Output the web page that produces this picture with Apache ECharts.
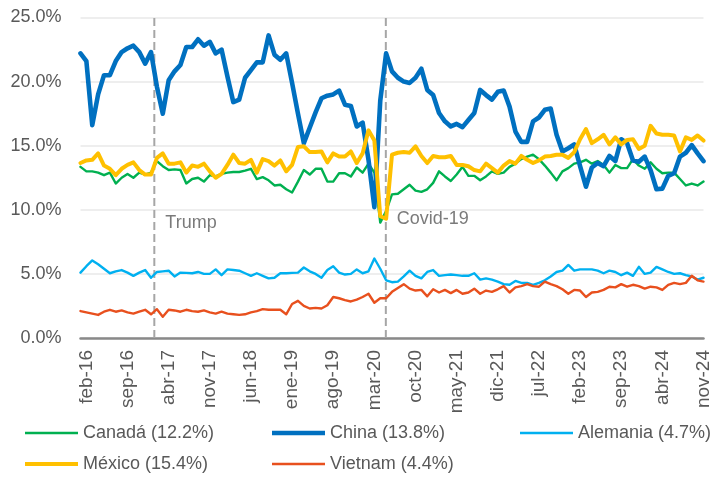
<!DOCTYPE html>
<html>
<head>
<meta charset="utf-8">
<script src="https://cdn.jsdelivr.net/npm/echarts@6/dist/echarts.min.js"></script>
<style>
html,body{margin:0;padding:0;background:#fff;}
#chart{width:713px;height:479px;}
</style>
</head>
<body>
<div id="chart"></div>
<script>
// Month labels (Spanish), ene-16 .. nov-24
const monthNames = ['ene','feb','mar','abr','may','jun','jul','ago','sep','oct','nov','dic'];
const categories = [];
for (let y = 16; y <= 24; y++) {
  for (let m = 0; m < 12; m++) {
    if (y === 24 && m > 10) break;
    categories.push(monthNames[m] + '-' + y);
  }
}

const canada = [13.35,13.0,13.0,12.9,12.7,12.9,12.05,12.5,12.8,12.5,12.9,12.75,12.9,13.8,13.4,13.1,13.15,13.1,12.05,12.4,
  12.5,12.2,12.7,12.6,12.8,12.9,12.95,12.95,13.05,13.2,12.4,12.55,12.3,11.9,11.95,11.6,11.35,12.2,13.1,12.75,
  13.2,13.2,12.2,12.2,12.85,12.85,12.6,13.3,12.9,13.6,12.9,9.0,9.9,11.2,11.25,11.6,11.95,11.5,11.4,11.6,
  12.1,13.0,12.6,12.25,12.75,13.35,12.65,12.65,12.3,12.6,13.0,12.8,12.9,13.35,13.6,13.95,14.15,14.3,13.95,13.45,
  12.9,12.3,13.0,13.25,13.6,13.7,13.9,13.6,13.8,13.5,12.9,13.5,13.25,13.25,13.95,13.45,13.2,13.7,13.2,12.85,
  12.9,12.9,12.4,11.9,12.05,11.9,12.2];
const china = [22.2,21.6,16.6,19.0,20.5,20.5,21.6,22.3,22.6,22.8,22.3,21.4,22.3,19.6,17.5,20.1,20.8,21.3,22.7,22.7,
  23.3,22.8,23.1,22.2,22.5,20.4,18.4,18.6,20.3,20.9,21.5,21.5,23.6,22.1,21.7,22.2,19.9,17.5,15.2,16.4,
  17.6,18.7,18.9,19.0,19.3,18.2,18.1,16.5,16.8,13.9,10.2,18.5,22.2,20.8,20.3,20.0,19.9,20.3,21.0,19.35,
  18.95,17.55,16.9,16.5,16.7,16.45,17.0,17.55,19.35,18.95,18.6,19.2,19.3,18.05,16.1,15.3,15.3,16.9,17.2,17.8,
  17.9,15.85,14.55,14.8,15.1,13.4,11.8,13.3,13.65,13.4,14.2,13.8,15.5,15.2,13.85,13.75,14.15,13.1,11.6,11.65,
  12.65,12.85,14.15,14.45,15.05,14.4,13.8];
const alemania = [5.1,5.6,6.05,5.75,5.4,5.05,5.2,5.3,5.1,4.85,5.1,5.3,4.7,5.15,5.2,5.25,4.8,5.1,5.08,5.05,
  5.15,5.0,5.0,5.35,4.9,5.35,5.3,5.25,5.05,4.85,5.05,4.85,4.65,4.7,5.05,5.05,5.08,5.1,5.5,5.2,
  5.0,4.7,5.3,5.6,5.1,4.95,5.0,5.35,5.05,5.2,6.2,5.4,4.5,4.35,4.4,4.8,5.25,4.85,4.65,5.15,
  5.3,4.85,4.9,4.95,4.9,4.85,4.85,5.05,4.55,4.65,4.55,4.4,4.2,4.15,4.45,4.3,4.3,4.15,4.3,4.5,
  4.8,5.15,5.25,5.7,5.25,5.35,5.35,5.35,5.25,5.05,5.25,5.15,4.9,5.1,4.85,5.55,5.0,5.1,5.55,5.35,
  5.15,5.0,5.05,4.9,4.8,4.55,4.7];
const mexico = [13.65,13.85,13.9,14.4,13.45,13.2,12.7,13.2,13.5,13.7,13.1,12.75,12.75,14.05,14.4,13.6,13.6,13.7,12.9,13.45,
  13.35,13.6,13.0,12.5,12.8,13.5,14.3,13.65,13.6,13.9,12.9,13.95,13.8,13.45,13.85,13.0,13.5,14.9,14.95,14.5,
  14.5,14.55,13.7,14.4,14.15,14.15,14.55,13.65,14.4,16.2,15.4,9.5,9.3,14.3,14.45,14.5,14.45,14.95,14.2,13.65,
  14.2,14.1,14.1,14.2,13.5,13.5,13.4,13.1,13.0,13.6,13.25,12.9,13.45,13.8,13.6,14.2,13.9,13.65,13.85,14.15,
  14.2,14.3,14.3,14.05,14.5,15.5,16.3,15.2,15.5,15.85,15.1,15.65,15.1,15.45,15.5,14.75,15.0,16.55,15.95,15.85,
  15.85,15.8,14.55,15.65,15.45,15.8,15.4];
const vietnam = [2.1,2.0,1.9,1.8,2.05,2.2,2.05,2.15,2.0,1.9,2.05,2.2,1.85,2.25,1.65,2.2,2.15,2.05,2.2,2.1,
  2.05,2.15,2.0,1.9,2.05,1.9,1.85,1.8,1.85,2.0,2.1,2.25,2.2,2.2,2.2,1.85,2.65,2.9,2.5,2.3,
  2.35,2.3,2.55,3.2,3.1,2.95,2.85,3.0,3.2,3.45,2.75,3.1,3.1,3.6,3.9,4.2,3.85,3.7,3.75,3.25,
  3.8,3.55,3.75,3.5,3.75,3.45,3.55,3.85,3.45,3.7,3.6,3.8,4.05,3.55,3.95,4.05,4.2,4.05,4.0,4.4,
  4.2,4.05,3.8,3.45,3.75,3.7,3.2,3.55,3.6,3.75,4.0,3.95,4.2,4.0,4.15,4.05,3.85,4.0,3.95,3.75,
  4.15,4.3,4.2,4.3,4.85,4.5,4.4];

const seriesNames = ['Canadá','China','Alemania','México','Vietnam'];
const seriesData = [canada, china, alemania, mexico, vietnam];
const seriesColors = ['#00B050','#0070C0','#00B0F0','#FFC000','#E8501E'];
const seriesWidths = [2.4, 4.6, 2.4, 4.0, 2.4];

// Event markers (position in months from ene-16) and label height (%)
const eventNames = ['Trump','Covid-19'];
const eventPos = [12.56, 51.95];
const eventLabelY = [9.0, 9.3];

const yTicks = [0, 5, 10, 15, 20, 25];

const FONT = 'Liberation Sans, Arial, sans-serif';
const TXT = '#595959';

const lastVal = {};
seriesNames.forEach((n, k) => { lastVal[n] = seriesData[k][seriesData[k].length - 1]; });

const series = seriesNames.map((n, k) => ({
  name: n, type: 'line', data: seriesData[k], symbol: 'none',
  lineStyle: { color: seriesColors[k], width: seriesWidths[k], join: 'round', cap: 'round' },
  itemStyle: { color: seriesColors[k] },
  z: 3 + k, animation: false
}));
eventNames.forEach((n, k) => {
  series.push({
    type: 'line', xAxisIndex: 1, silent: true, symbol: 'none', animation: false, z: 2,
    data: [[eventPos[k], yTicks[0]], [eventPos[k], yTicks[yTicks.length - 1]]],
    lineStyle: { color: '#A6A6A6', width: 2, type: [8, 4] }
  });
  series.push({
    type: 'scatter', xAxisIndex: 1, silent: true, animation: false, z: 2,
    symbolSize: 2, itemStyle: { color: 'rgba(255,255,255,0)' },
    data: [[eventPos[k], eventLabelY[k]]],
    label: { show: true, position: 'right', distance: 10, formatter: n,
      fontFamily: FONT, fontSize: 18, color: TXT }
  });
});

const legendPos = [
  { left: 25, top: 424 }, { left: 272, top: 424 }, { left: 520, top: 424 },
  { left: 25, top: 455 }, { left: 272, top: 455 }
];
const legends = seriesNames.map((n, k) => ({
  show: true, padding: 0,
  data: [{ name: n, icon: 'rect' }], left: legendPos[k].left, top: legendPos[k].top, orient: 'horizontal',
  itemWidth: 53, itemHeight: seriesWidths[k], itemGap: 10, selectedMode: false,
  itemStyle: { color: seriesColors[k], borderWidth: 0 },
  lineStyle: { width: 0, opacity: 0 },
  formatter: name => name + ' (' + lastVal[name].toFixed(1) + '%)',
  textStyle: { fontFamily: FONT, fontSize: 18, color: TXT }
}));

const chart = echarts.init(document.getElementById('chart'), null, { renderer: 'canvas' });
chart.setOption({
  animation: false,
  backgroundColor: '#ffffff',
  grid: { left: 80.5, right: 7, top: 17.5, bottom: 141, containLabel: false },
  xAxis: [{
    type: 'category', data: categories, boundaryGap: false,
    axisLine: { show: true, lineStyle: { color: '#898989', width: 2.5 } },
    axisTick: { show: false },
    splitLine: { show: false },
    axisLabel: {
      rotate: 90, margin: 12, fontFamily: FONT, fontSize: 19, color: TXT,
      interval: (i) => i >= 1 && (i - 1) % 7 === 0
    }
  }, {
    type: 'value', min: 0, max: categories.length - 1, show: false
  }],
  yAxis: {
    type: 'value', min: yTicks[0], max: yTicks[yTicks.length - 1], interval: 5,
    axisLine: { show: false }, axisTick: { show: false },
    splitLine: { show: true, lineStyle: { color: '#E9E9E9', width: 1.5 } },
    axisLabel: { margin: 19, fontFamily: FONT, fontSize: 18, color: TXT,
      formatter: v => v.toFixed(1) + '%' }
  },
  legend: legends,
  series: series
});
</script>
</body>
</html>
